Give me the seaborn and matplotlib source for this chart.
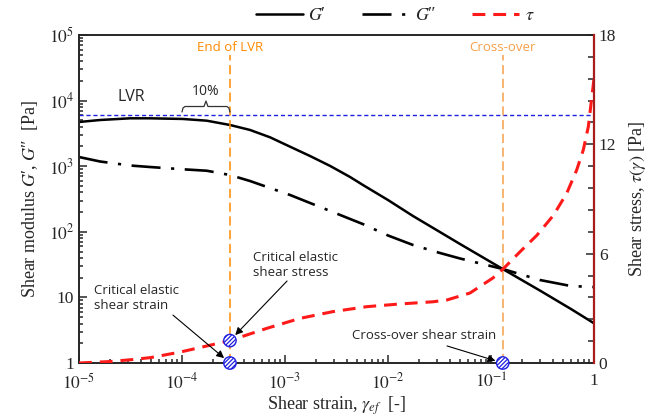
import numpy as np
import pandas as pd
import matplotlib
matplotlib.use("Agg")
import matplotlib.pyplot as plt
from matplotlib.lines import Line2D
from matplotlib.ticker import FixedLocator, LogLocator, MultipleLocator, NullFormatter
import seaborn as sns

# ---- amplitude sweep data -------------------------------------------------
gamma_mod = [1e-5, 1.6e-5, 3.13e-5, 4.89e-5, 1.02e-4, 1.74e-4, 2.92e-4, 4.57e-4,
             7.15e-4, 1.12e-3, 1.75e-3, 2.74e-3, 4.28e-3, 5.71e-3, 1e-2, 1.75e-2,
             3.2e-2, 5e-2, 0.13, 0.299, 0.598, 1.0]
g_storage = [4720, 5060, 5370, 5370, 5250, 4940, 4250, 3570,
             2760, 1983, 1430, 1010, 685, 517, 305, 174,
             99, 65.2, 27.1, 12.7, 6.65, 4.03]
g_loss = [1380, 1180, 1025, 972, 897, 853, 734, 595,
          465, 364, 275, 208, 157, 131, 87.9, 62.9,
          47.5, 39.2, 27.1, 18.4, 14.9, 14.4]

gamma_tau = [1e-5, 2e-5, 3.34e-5, 5e-5, 9.6e-5, 1.5e-4, 2.92e-4, 6.64e-4, 1.4e-3,
             2.92e-3, 6.2e-3, 1.31e-2, 2.74e-2, 3.74e-2, 6.25e-2, 0.104, 0.13,
             0.191, 0.278, 0.403, 0.543, 0.679, 0.787, 0.881, 1.0]
tau = [0.0, 0.08, 0.19, 0.30, 0.60, 0.85, 1.23, 1.90, 2.45,
       2.82, 3.09, 3.24, 3.36, 3.46, 3.84, 4.66, 5.14,
       6.10, 7.00, 8.10, 9.31, 10.59, 11.69, 12.97, 15.6]

# characteristic points
gamma_lvr_start = 1e-4
gamma_crit = 2.92e-4
tau_crit = 1.23
gamma_cross = 0.13
g_ref = 6030

x_ticks = [1e-5, 1e-4, 1e-3, 1e-2, 1e-1, 1]
x_tick_labels = ["$10^{-5}$", "$10^{-4}$", "$10^{-3}$", "$10^{-2}$", "$10^{-1}$", "1"]
y_ticks = [1, 10, 1e2, 1e3, 1e4, 1e5]
y_tick_labels = ["1", "10", "$10^{2}$", "$10^{3}$", "$10^{4}$", "$10^{5}$"]
tau_ticks = [0, 6, 12, 18]

# ---- style -----------------------------------------------------------------
sns.set_style("ticks")
plt.rcParams["font.family"] = ["Liberation Serif", "DejaVu Serif"]
plt.rcParams["mathtext.fontset"] = "stix"
plt.rcParams["axes.linewidth"] = 1.4
plt.rcParams["hatch.color"] = "#2020e0"
plt.rcParams["hatch.linewidth"] = 0.9

SANS = ["Open Sans", "DejaVu Sans"]
ORANGE = "#ff8a00"
ORANGE_LIGHT = "#f7a04a"
BLUE = "#2020e0"
DARKRED = "#a81c1c"
RED = "#ff1a1a"
LOSS_DASH = (0, (11, 4, 1.2, 4))
TAU_DASH = (0, (4.2, 2.6))

mod_df = pd.DataFrame({"gamma": gamma_mod, "G1": g_storage, "G2": g_loss})
tau_df = pd.DataFrame({"gamma": gamma_tau, "tau": tau})

fig = plt.figure(figsize=(6.72, 4.2), dpi=100)
ax = fig.add_axes([79 / 672, 1 - 363 / 420, 515 / 672, 328 / 420])
ax2 = ax.twinx()

sns.lineplot(data=mod_df, x="gamma", y="G1", ax=ax, color="black", lw=1.8,
             sort=True, estimator=None)
sns.lineplot(data=mod_df, x="gamma", y="G2", ax=ax, color="black", lw=1.9,
             linestyle=LOSS_DASH, sort=True, estimator=None)
sns.lineplot(data=tau_df, x="gamma", y="tau", ax=ax2, color=RED, lw=2.2,
             linestyle=TAU_DASH, sort=True, estimator=None)

ax.set_xscale("log")
ax.set_yscale("log")
ax.set_xlim(1e-5, 1)
ax.set_ylim(1, 1e5)
ax2.set_ylim(0, 18)

# reference level of the linear viscoelastic region
ax.axhline(g_ref, color=BLUE, lw=1.0, linestyle=(0, (3, 2)))

# end of LVR and cross-over markers
ax.axvline(gamma_crit, ymax=0.94, color=ORANGE, lw=1.1, linestyle=(0, (6, 3)))
ax.axvline(gamma_cross, ymax=0.94, color=ORANGE_LIGHT, lw=1.1, linestyle=(0, (6, 3)))
trans = ax.get_xaxis_transform()
ax.text(gamma_crit, 0.963, "End of LVR", color=ORANGE, ha="center", va="center",
        fontsize=9.5, family=SANS, transform=trans)
ax.text(gamma_cross, 0.963, "Cross-over", color=ORANGE_LIGHT, ha="center", va="center",
        fontsize=9.5, family=SANS, transform=trans)

# LVR label and 10 % brace
ax.text(3.2e-5, 11300, "LVR", ha="center", va="center", fontsize=11.5, family=SANS)
fx0 = (np.log10(gamma_lvr_start) + 5) / 5
fx1 = (np.log10(gamma_crit) + 5) / 5
fxm = 0.5 * (fx0 + fx1)
fy = np.log10(g_ref) / 5
px, py = 1 / 515, 1 / 328
bx = [fx0, fx0 + 1 * px, fx0 + 3 * px, fxm - 2 * px, fxm, fxm + 2 * px, fx1 - 3 * px, fx1 - 1 * px, fx1]
by = [fy + 3 * py, fy + 7 * py, fy + 8.5 * py, fy + 8.5 * py, fy + 14 * py,
      fy + 8.5 * py, fy + 8.5 * py, fy + 7 * py, fy + 3 * py]
ax.plot(bx, by, color="#333333", lw=0.9, transform=ax.transAxes, clip_on=False)
ax.text(fxm, fy + 24 * py, "10%", ha="center", va="center", fontsize=10,
        family=SANS, transform=ax.transAxes)

# characteristic points
pts_x = [gamma_crit, gamma_crit, gamma_cross]
pts_y = [0, tau_crit, 0]
ax2.scatter(pts_x, pts_y, s=80, facecolor="white", edgecolor=BLUE, hatch="////////",
            linewidth=1.0, zorder=10, clip_on=False)

arrow = dict(arrowstyle="-|>", color="black", lw=0.8, mutation_scale=11,
             shrinkA=0, shrinkB=5.5)
ax.text(0.029, 0.198, "Critical elastic\nshear strain", transform=ax.transAxes,
        ha="left", va="center", fontsize=9.5, family=SANS, linespacing=1.25)
ax2.annotate("", xy=(gamma_crit, 0), xytext=(0.1825, 0.146),
             textcoords="axes fraction", arrowprops=arrow)
ax.text(0.338, 0.299, "Critical elastic\nshear stress", transform=ax.transAxes,
        ha="left", va="center", fontsize=9.5, family=SANS, linespacing=1.25)
ax2.annotate("", xy=(gamma_crit, tau_crit), xytext=(0.404, 0.25),
             textcoords="axes fraction", arrowprops=arrow)
ax.text(0.670, 0.085, "Cross-over shear strain", transform=ax.transAxes,
        ha="center", va="center", fontsize=9.5, family=SANS)
ax2.annotate("", xy=(gamma_cross, 0), xytext=(0.7146, 0.052),
             textcoords="axes fraction", arrowprops=arrow)

# axes and ticks
ax.xaxis.set_major_locator(FixedLocator(x_ticks))
ax.set_xticklabels(x_tick_labels)
ax.xaxis.set_minor_locator(LogLocator(base=10, subs=np.arange(2, 10), numticks=20))
ax.xaxis.set_minor_formatter(NullFormatter())
ax.yaxis.set_major_locator(FixedLocator(y_ticks))
ax.set_yticklabels(y_tick_labels)
ax.yaxis.set_minor_locator(LogLocator(base=10, subs=np.arange(2, 10), numticks=20))
ax.yaxis.set_minor_formatter(NullFormatter())
ax.tick_params(which="both", direction="in", top=False, right=False, labelsize=12.5,
               width=1.1)
ax.tick_params(which="major", length=6)
ax.tick_params(which="minor", length=3)
ax.tick_params(axis="x", pad=7)

ax2.set_yticks(tau_ticks)
ax2.yaxis.set_minor_locator(MultipleLocator(1.2))
ax2.tick_params(which="both", direction="in", labelsize=12.5, width=1.1)
ax2.tick_params(which="major", length=6)
ax2.tick_params(which="minor", length=4)
ax2.spines["right"].set_color(DARKRED)
ax2.spines["right"].set_linewidth(1.6)
for side in ["left", "bottom", "top"]:
    ax2.spines[side].set_visible(False)

ax.set_xlabel(r"Shear strain, $\gamma_{ef}$  [-]", fontsize=13, labelpad=1)
ax.set_ylabel("Shear modulus $G$\u2032, $G$\u2033  [Pa]", fontsize=13, labelpad=6)
ax2.set_ylabel(r"Shear stress, $\tau(\gamma)$ [Pa]", fontsize=13, labelpad=8)

# legend above the plot
handles = [
    Line2D([], [], color="black", lw=1.8),
    Line2D([], [], color="black", lw=1.9, linestyle=LOSS_DASH),
    Line2D([], [], color=RED, lw=2.2, linestyle=TAU_DASH),
]
fig.legend(handles, ["$G$\u2032", "$G$\u2033", r"$\tau$"], loc="center",
           bbox_to_anchor=(395 / 672, 1 - 16 / 420), ncol=3, frameon=False,
           fontsize=13, handlelength=2.6, columnspacing=2.0, handletextpad=0.3)

fig.savefig("out.png", dpi=100)
